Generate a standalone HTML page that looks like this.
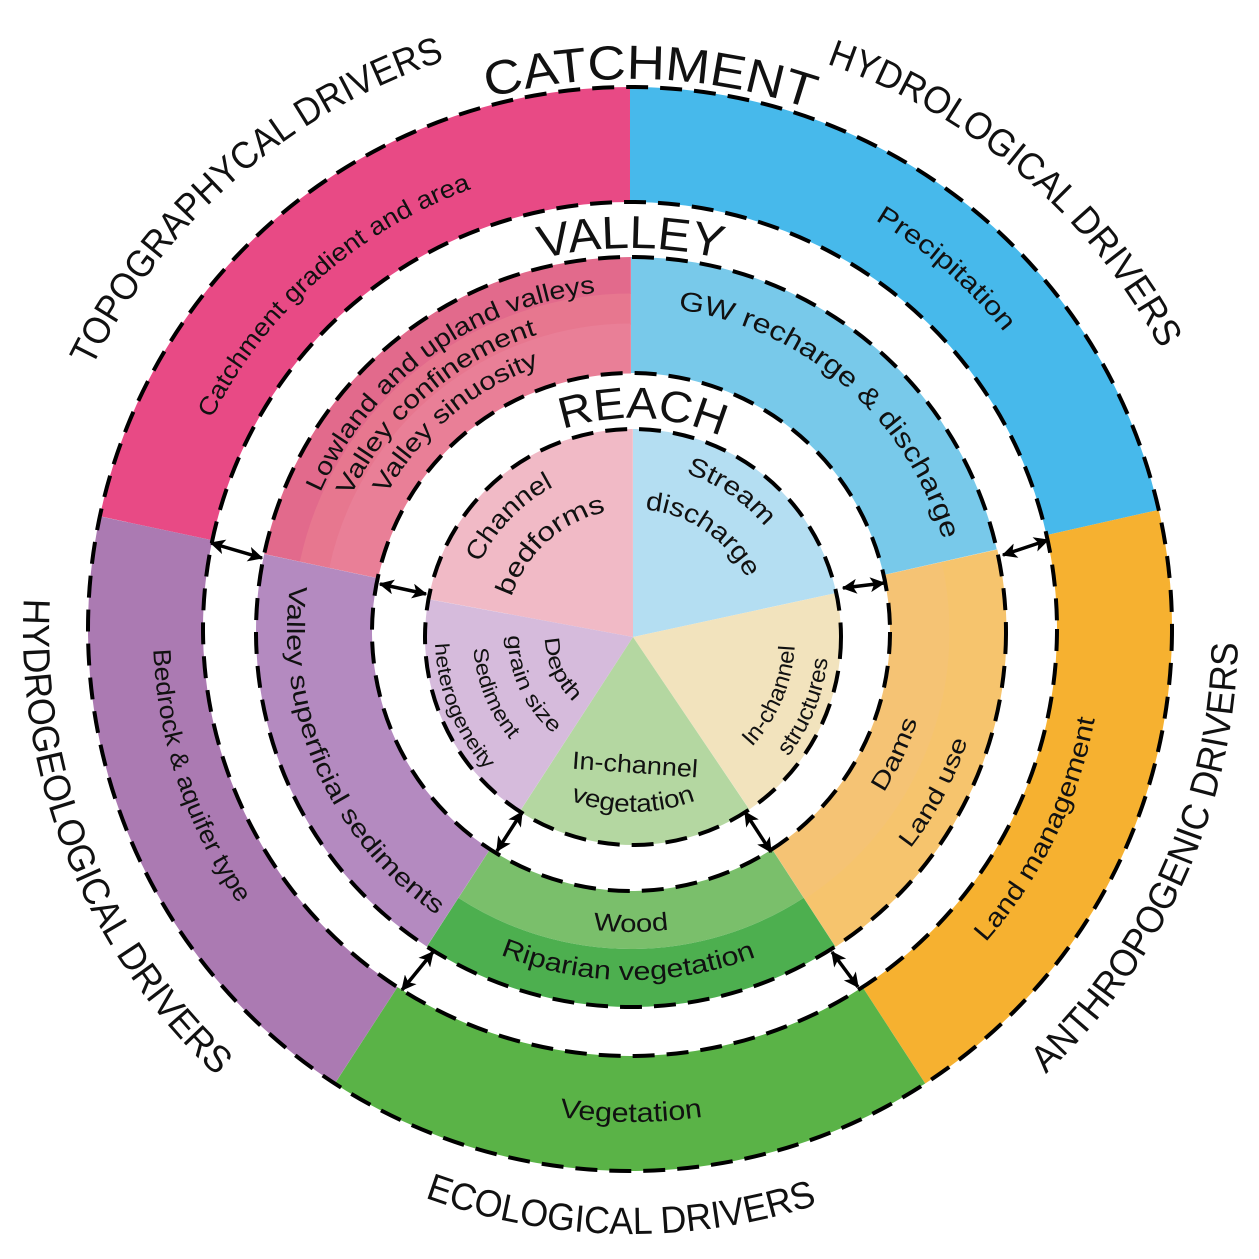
<!DOCTYPE html>
<html><head><meta charset="utf-8"><style>
html,body{margin:0;padding:0;background:#fff;}
svg{display:block;}
text{font-family:"Liberation Sans",sans-serif;fill:#111;}
</style></head><body>
<svg width="1259" height="1259" viewBox="0 0 1259 1259" xmlns="http://www.w3.org/2000/svg">
<defs>
<marker id="ah" viewBox="0 0 12 12" refX="11" refY="6" markerWidth="15" markerHeight="15" markerUnits="userSpaceOnUse" orient="auto-start-reverse">
<path d="M0,0 L12,6 L0,12 L3,6 Z" fill="#000"/>
</marker>
<path id="c552" d="M631 1183 A552 552 0 0 1 631 79 A552 552 0 0 1 631 1183"/>
<path id="c383" d="M631 1014 A383 383 0 0 1 631 248 A383 383 0 0 1 631 1014"/>
<path id="c600" d="M631 1231 A600 600 0 0 1 631 31 A600 600 0 0 1 631 1231"/>
<path id="c470" d="M631 1101 A470 470 0 0 1 631 161 A470 470 0 0 1 631 1101"/>
<path id="c478" d="M631 1109 A478 478 0 0 1 631 153 A478 478 0 0 1 631 1109"/>
<path id="c340" d="M631 971 A340 340 0 0 1 631 291 A340 340 0 0 1 631 971"/>
<path id="c311" d="M631 942 A311 311 0 0 1 631 320 A311 311 0 0 1 631 942"/>
<path id="c280" d="M631 911 A280 280 0 0 1 631 351 A280 280 0 0 1 631 911"/>
<path id="c325" d="M631 956 A325 325 0 0 1 631 306 A325 325 0 0 1 631 956"/>
<path id="rc219" d="M633 856 A219 219 0 0 1 633 418 A219 219 0 0 1 633 856"/>
<path id="rc170" d="M633 807 A170 170 0 0 1 633 467 A170 170 0 0 1 633 807"/>
<path id="rc128" d="M633 765 A128 128 0 0 1 633 509 A128 128 0 0 1 633 765"/>
<path id="rc172" d="M633 809 A172 172 0 0 1 633 465 A172 172 0 0 1 633 809"/>
<path id="a607" d="M631 24 A607 607 0 0 0 631 1238 A607 607 0 0 0 631 24"/>
<path id="a603" d="M631 28 A603 603 0 0 0 631 1234 A603 603 0 0 0 631 28"/>
<path id="a608" d="M631 23 A608 608 0 0 0 631 1239 A608 608 0 0 0 631 23"/>
<path id="a478" d="M631 153 A478 478 0 0 0 631 1109 A478 478 0 0 0 631 153"/>
<path id="a472" d="M631 159 A472 472 0 0 0 631 1103 A472 472 0 0 0 631 159"/>
<path id="a491" d="M631 140 A491 491 0 0 0 631 1122 A491 491 0 0 0 631 140"/>
<path id="a344" d="M631 287 A344 344 0 0 0 631 975 A344 344 0 0 0 631 287"/>
<path id="a300" d="M631 331 A300 300 0 0 0 631 931 A300 300 0 0 0 631 331"/>
<path id="a354" d="M631 277 A354 354 0 0 0 631 985 A354 354 0 0 0 631 277"/>
<path id="a301" d="M631 330 A301 301 0 0 0 631 932 A301 301 0 0 0 631 330"/>
<path id="a349" d="M631 282 A349 349 0 0 0 631 980 A349 349 0 0 0 631 282"/>
<path id="ra162" d="M633 475 A162 162 0 0 0 633 799 A162 162 0 0 0 633 475"/>
<path id="ra196" d="M633 441 A196 196 0 0 0 633 833 A196 196 0 0 0 633 441"/>
<path id="ra175" d="M633 462 A175 175 0 0 0 633 812 A175 175 0 0 0 633 462"/>
<path id="ra88" d="M633 549 A88 88 0 0 0 633 725 A88 88 0 0 0 633 549"/>
<path id="ra125" d="M633 512 A125 125 0 0 0 633 762 A125 125 0 0 0 633 512"/>
<path id="ra160" d="M633 477 A160 160 0 0 0 633 797 A160 160 0 0 0 633 477"/>
<path id="ra198" d="M633 439 A198 198 0 0 0 633 835 A198 198 0 0 0 633 439"/>
</defs>

<g fill="none" stroke-width="115">
<circle cx="630" cy="629" r="484.5" pathLength="360" stroke="#e84a85" stroke-dasharray="78 360" transform="rotate(192 630 629)"/>
<circle cx="630" cy="629" r="484.5" pathLength="360" stroke="#47b9eb" stroke-dasharray="77.3 360" transform="rotate(270 630 629)"/>
<circle cx="630" cy="629" r="484.5" pathLength="360" stroke="#f6b130" stroke-dasharray="69.7 360" transform="rotate(347.3 630 629)"/>
<circle cx="630" cy="629" r="484.5" pathLength="360" stroke="#5ab347" stroke-dasharray="66 360" transform="rotate(57 630 629)"/>
<circle cx="630" cy="629" r="484.5" pathLength="360" stroke="#ab7ab2" stroke-dasharray="69 360" transform="rotate(123 630 629)"/>
</g>
<g fill="none">
<circle cx="631" cy="632" r="356.5" stroke-width="37" pathLength="360" stroke="#e26a8c" stroke-dasharray="78 360" transform="rotate(192 631 632)"/>
<circle cx="631" cy="632" r="323" stroke-width="31" pathLength="360" stroke="#e7778f" stroke-dasharray="78 360" transform="rotate(192 631 632)"/>
<circle cx="631" cy="632" r="283.5" stroke-width="50" pathLength="360" stroke="#e97f97" stroke-dasharray="78 360" transform="rotate(192 631 632)"/>
<circle cx="631" cy="632" r="317" stroke-width="116" pathLength="360" stroke="#78c9ea" stroke-dasharray="77.3 360" transform="rotate(270 631 632)"/>
<circle cx="631" cy="632" r="289" stroke-width="60" pathLength="360" stroke="#f5c374" stroke-dasharray="69.7 360" transform="rotate(347.3 631 632)"/>
<circle cx="631" cy="632" r="347" stroke-width="57" pathLength="360" stroke="#f6c46d" stroke-dasharray="69.7 360" transform="rotate(347.3 631 632)"/>
<circle cx="631" cy="632" r="288" stroke-width="58" pathLength="360" stroke="#7abf6b" stroke-dasharray="66 360" transform="rotate(57 631 632)"/>
<circle cx="631" cy="632" r="346" stroke-width="58" pathLength="360" stroke="#4daf4f" stroke-dasharray="66 360" transform="rotate(57 631 632)"/>
<circle cx="631" cy="632" r="317" stroke-width="116" pathLength="360" stroke="#b48ac0" stroke-dasharray="69 360" transform="rotate(123 631 632)"/>
</g>
<g fill="none" stroke-width="208">
<circle cx="633" cy="637" r="104" pathLength="360" stroke="#f1bac6" stroke-dasharray="79.5 360" transform="rotate(190.5 633 637)"/>
<circle cx="633" cy="637" r="104" pathLength="360" stroke="#b4def2" stroke-dasharray="77.8 360" transform="rotate(270 633 637)"/>
<circle cx="633" cy="637" r="104" pathLength="360" stroke="#f2e3bd" stroke-dasharray="68.2 360" transform="rotate(347.8 633 637)"/>
<circle cx="633" cy="637" r="104" pathLength="360" stroke="#b4d7a1" stroke-dasharray="67 360" transform="rotate(56 633 637)"/>
<circle cx="633" cy="637" r="104" pathLength="360" stroke="#d6bbdc" stroke-dasharray="67.5 360" transform="rotate(123 633 637)"/>
</g>
<g fill="none" stroke="#000" stroke-width="4" stroke-dasharray="22 12">
<circle cx="630" cy="629" r="542"/>
<circle cx="630" cy="629" r="427"/>
<circle cx="631" cy="632" r="375"/>
<circle cx="631" cy="632" r="259"/>
<circle cx="633" cy="637" r="208"/>
</g>
<g stroke="#000" stroke-width="3.5" marker-start="url(#ah)" marker-end="url(#ah)">
<line x1="211" y1="543" x2="262" y2="558"/>
<line x1="1003" y1="555" x2="1048" y2="540"/>
<line x1="402" y1="990" x2="433" y2="952"/>
<line x1="832" y1="952" x2="858" y2="987"/>
<line x1="380" y1="584" x2="426" y2="594"/>
<line x1="843" y1="588" x2="884" y2="583"/>
<line x1="497" y1="851" x2="522" y2="812"/>
<line x1="745" y1="812" x2="771" y2="852"/>
</g>

<g transform="rotate(2 631 631)"><text font-size="48" text-anchor="middle"><textPath href="#c552" startOffset="50%" textLength="328" lengthAdjust="spacingAndGlyphs">CATCHMENT</textPath></text></g>
<text font-size="46" text-anchor="middle"><textPath href="#c383" startOffset="50%" textLength="182" lengthAdjust="spacingAndGlyphs">VALLEY</textPath></text>
<g transform="rotate(2.5 633 637)"><text font-size="44" text-anchor="middle"><textPath href="#rc219" startOffset="50%" textLength="162" lengthAdjust="spacingAndGlyphs">REACH</textPath></text></g>

<g transform="rotate(-41 631 631)"><text font-size="38" text-anchor="middle"><textPath href="#c600" startOffset="50%" textLength="480" lengthAdjust="spacingAndGlyphs">TOPOGRAPHYCAL DRIVERS</textPath></text></g>
<g transform="rotate(40.5 631 631)"><text font-size="38" text-anchor="middle"><textPath href="#c600" startOffset="50%" textLength="450" lengthAdjust="spacingAndGlyphs">HYDROLOGICAL DRIVERS</textPath></text></g>
<g transform="rotate(-66 631 631)"><text font-size="38" text-anchor="middle"><textPath href="#a607" startOffset="50%" textLength="485" lengthAdjust="spacingAndGlyphs">ANTHROPOGENIC DRIVERS</textPath></text></g>
<g transform="rotate(1 631 631)"><text font-size="38" text-anchor="middle"><textPath href="#a603" startOffset="50%" textLength="400" lengthAdjust="spacingAndGlyphs">ECOLOGICAL DRIVERS</textPath></text></g>
<g transform="rotate(68 631 631)"><text font-size="38" text-anchor="middle"><textPath href="#a608" startOffset="50%" textLength="532" lengthAdjust="spacingAndGlyphs">HYDROGEOLOGICAL DRIVERS</textPath></text></g>

<g transform="rotate(-41.5 631 631)"><text font-size="25" text-anchor="middle"><textPath href="#c470" startOffset="50%" textLength="355" lengthAdjust="spacingAndGlyphs">Catchment gradient and area</textPath></text></g>
<g transform="rotate(41 631 631)"><text font-size="26" text-anchor="middle"><textPath href="#c478" startOffset="50%" textLength="172" lengthAdjust="spacingAndGlyphs">Precipitation</textPath></text></g>
<g transform="rotate(71.5 631 631)"><text font-size="25" text-anchor="middle"><textPath href="#a478" startOffset="50%" textLength="272" lengthAdjust="spacingAndGlyphs">Bedrock &amp; aquifer type</textPath></text></g>
<g transform="rotate(-64 631 631)"><text font-size="26" text-anchor="middle"><textPath href="#a472" startOffset="50%" textLength="252" lengthAdjust="spacingAndGlyphs">Land management</textPath></text></g>
<text font-size="27" text-anchor="middle"><textPath href="#a491" startOffset="50%" textLength="144" lengthAdjust="spacingAndGlyphs">Vegetation</textPath></text>

<g transform="rotate(-36 631 631)"><text font-size="25" text-anchor="middle"><textPath href="#c340" startOffset="50%" textLength="356" lengthAdjust="spacingAndGlyphs">Lowland and upland valleys</textPath></text></g>
<g transform="rotate(-41 631 631)"><text font-size="25" text-anchor="middle"><textPath href="#c311" startOffset="50%" textLength="254" lengthAdjust="spacingAndGlyphs">Valley confinement</textPath></text></g>
<g transform="rotate(-40 631 631)"><text font-size="25" text-anchor="middle"><textPath href="#c280" startOffset="50%" textLength="204" lengthAdjust="spacingAndGlyphs">Valley sinuosity</textPath></text></g>
<g transform="rotate(41 631 631)"><text font-size="27" text-anchor="middle"><textPath href="#c325" startOffset="50%" textLength="371" lengthAdjust="spacingAndGlyphs">GW recharge &amp; discharge</textPath></text></g>
<g transform="rotate(66 631 631)"><text font-size="25" text-anchor="middle"><textPath href="#a344" startOffset="50%" textLength="380" lengthAdjust="spacingAndGlyphs">Valley superficial sediments</textPath></text></g>
<g transform="rotate(-65 631 631)"><text font-size="24" text-anchor="middle"><textPath href="#a300" startOffset="50%" textLength="80" lengthAdjust="spacingAndGlyphs">Dams</textPath></text></g>
<g transform="rotate(-62 631 631)"><text font-size="24" text-anchor="middle"><textPath href="#a354" startOffset="50%" textLength="123" lengthAdjust="spacingAndGlyphs">Land use</textPath></text></g>
<text font-size="25" text-anchor="middle"><textPath href="#a301" startOffset="50%" textLength="76" lengthAdjust="spacingAndGlyphs">Wood</textPath></text>
<g transform="rotate(0.5 631 631)"><text font-size="26" text-anchor="middle"><textPath href="#a349" startOffset="50%" textLength="262" lengthAdjust="spacingAndGlyphs">Riparian vegetation</textPath></text></g>

<g transform="rotate(-46 633 637)"><text font-size="26" text-anchor="middle"><textPath href="#rc170" startOffset="50%" textLength="108" lengthAdjust="spacingAndGlyphs">Channel</textPath></text></g>
<g transform="rotate(-42 633 637)"><text font-size="26" text-anchor="middle"><textPath href="#rc128" startOffset="50%" textLength="133" lengthAdjust="spacingAndGlyphs">bedforms</textPath></text></g>
<g transform="rotate(34 633 637)"><text font-size="26" text-anchor="middle"><textPath href="#rc172" startOffset="50%" textLength="97" lengthAdjust="spacingAndGlyphs">Stream</textPath></text></g>
<g transform="rotate(34 633 637)"><text font-size="26" text-anchor="middle"><textPath href="#rc128" startOffset="50%" textLength="128" lengthAdjust="spacingAndGlyphs">discharge</textPath></text></g>
<g transform="rotate(-67 633 637)"><text font-size="23" text-anchor="middle"><textPath href="#ra162" startOffset="50%" textLength="112" lengthAdjust="spacingAndGlyphs">In-channel</textPath></text></g>
<g transform="rotate(-68 633 637)"><text font-size="23" text-anchor="middle"><textPath href="#ra196" startOffset="50%" textLength="107" lengthAdjust="spacingAndGlyphs">structures</textPath></text></g>
<text x="635" y="773" font-size="25" text-anchor="middle" textLength="126" lengthAdjust="spacingAndGlyphs" transform="rotate(4 635 765)">In-channel</text>
<text font-size="25" text-anchor="middle"><textPath href="#ra175" startOffset="50%" textLength="128" lengthAdjust="spacingAndGlyphs">vegetation</textPath></text>
<g transform="rotate(66 633 637)"><text font-size="21" text-anchor="middle"><textPath href="#ra88" startOffset="50%" textLength="72" lengthAdjust="spacingAndGlyphs">Depth</textPath></text></g>
<g transform="rotate(65 633 637)"><text font-size="21" text-anchor="middle"><textPath href="#ra125" startOffset="50%" textLength="112" lengthAdjust="spacingAndGlyphs">grain size</textPath></text></g>
<g transform="rotate(68 633 637)"><text font-size="21" text-anchor="middle"><textPath href="#ra160" startOffset="50%" textLength="100" lengthAdjust="spacingAndGlyphs">Sediment</textPath></text></g>
<g transform="rotate(68 633 637)"><text font-size="20" text-anchor="middle"><textPath href="#ra198" startOffset="50%" textLength="139" lengthAdjust="spacingAndGlyphs">heterogeneity</textPath></text></g>
</svg>
</body></html>
